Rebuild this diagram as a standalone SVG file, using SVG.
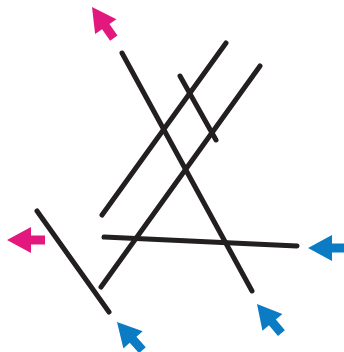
<svg xmlns="http://www.w3.org/2000/svg" width="344" height="352" viewBox="0 0 344 352">
<defs>
<style>
.ln{stroke:#231f20;stroke-width:5;stroke-linecap:round;fill:none}
.mag{fill:#e2187f}
.blu{fill:#0b7cc4}
</style>
<path id="arr" d="M0,0 L24,-13 L24,-4.5 L38,-4.5 L38,4.5 L24,4.5 L24,13 Z"/>
</defs>
<rect width="344" height="352" fill="#ffffff"/>
<g id="lines">
<line class="ln" x1="122" y1="53" x2="252" y2="291"/>
<line class="ln" x1="226" y1="43" x2="102" y2="215"/>
<line class="ln" x1="260" y1="66" x2="101" y2="287"/>
<line class="ln" x1="180" y1="76" x2="216" y2="140"/>
<line class="ln" x1="104" y1="237" x2="297" y2="246"/>
<line class="ln" x1="37" y1="211" x2="109" y2="312"/>
</g>
<g id="arrows">
<use href="#arr" class="mag" transform="translate(92,7) rotate(55)"/>
<use href="#arr" class="mag" transform="translate(7,240)"/>
<use href="#arr" class="blu" transform="translate(308,248)"/>
<use href="#arr" class="blu" transform="translate(257,304) rotate(50)"/>
<use href="#arr" class="blu" transform="translate(117,322) rotate(48)"/>
</g>
</svg>
